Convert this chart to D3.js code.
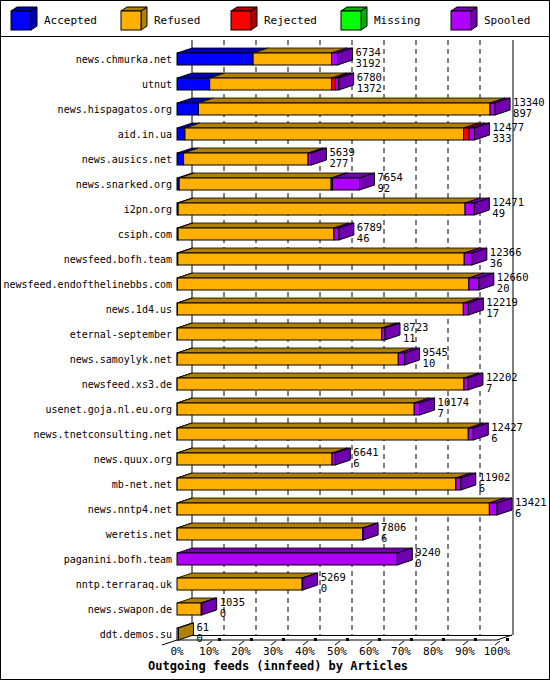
<!DOCTYPE html>
<html>
<head>
<meta charset="utf-8">
<script src="https://cdn.jsdelivr.net/npm/d3@7"></script>
<style>
  body { margin: 0; background: #fff; }
  text { font-family: "DejaVu Sans Mono", monospace; }
</style>
</head>
<body>
<div class="canvas"></div>
<script>
// feeds, top to bottom
const hosts = ["news.chmurka.net", "utnut", "news.hispagatos.org", "aid.in.ua", "news.ausics.net",
  "news.snarked.org", "i2pn.org", "csiph.com", "newsfeed.bofh.team", "newsfeed.endofthelinebbs.com",
  "news.1d4.us", "eternal-september", "news.samoylyk.net", "newsfeed.xs3.de", "usenet.goja.nl.eu.org",
  "news.tnetconsulting.net", "news.quux.org", "mb-net.net", "news.nntp4.net", "weretis.net",
  "paganini.bofh.team", "nntp.terraraq.uk", "news.swapon.de", "ddt.demos.su"];
const totals = [6734, 6780, 13340, 12477, 5639, 7654, 12471, 6789, 12366, 12660, 12219, 8723, 9545,
  12202, 10174, 12427, 6641, 11902, 13421, 7806, 9240, 5269, 1035, 61];
const accepted = [3192, 1372, 897, 333, 277, 92, 49, 46, 36, 20, 17, 11, 10, 7, 7, 6, 6, 6, 6, 6, 0, 0, 0, 0];
const refused = [3290, 5117, 12233, 11684, 5222, 6372, 12032, 6533, 12010, 12220, 11992, 8572, 9270,
  12025, 9942, 12211, 6495, 11686, 13095, 7780, 0, 5249, 1015, 61];
const rejected = [0, 155, 0, 240, 0, 60, 0, 0, 0, 0, 0, 0, 0, 0, 0, 0, 0, 0, 0, 0, 0, 0, 0, 0];
const missing = [0, 0, 0, 0, 0, 0, 0, 0, 0, 0, 0, 0, 0, 0, 0, 0, 0, 0, 0, 0, 0, 0, 0, 0];
const spooled = [252, 136, 210, 220, 140, 1130, 390, 210, 320, 420, 210, 140, 265, 170, 225, 210, 140,
  210, 320, 20, 9240, 20, 20, 0];
const seriesNames = ["Accepted", "Refused", "Rejected", "Missing", "Spooled"];
const seriesVals = [accepted, refused, rejected, missing, spooled];
const pctTicks = [0, 10, 20, 30, 40, 50, 60, 70, 80, 90, 100];

const colors = ["#0000ff", "#ffb000", "#ff0000", "#00ff00", "#b000ff"];
const darks = ["#0000b0", "#b08000", "#b00000", "#00b000", "#7000b0"];

const W = 550, H = 680, DX = 15, DY = -5;
const svg = d3.select(".canvas").append("svg").attr("width", W).attr("height", H);
svg.append("rect").attr("x", 0.5).attr("y", 0.5).attr("width", W - 1).attr("height", H - 1)
  .attr("fill", "#fff").attr("stroke", "#000");

// legend
svg.append("line").attr("x1", 0).attr("x2", W).attr("y1", 36.5).attr("y2", 36.5).attr("stroke", "#000");
const leg = svg.selectAll(".leg").data(seriesNames).enter().append("g")
  .attr("transform", (d, i) => `translate(${11 + i * 110},0)`);
leg.append("path").attr("d", "M20,11 L26,7 L26,26 L20,30 Z").attr("fill", (d, i) => darks[i]).attr("stroke", "#000");
leg.append("path").attr("d", "M0,11 L6,7 L26,7 L20,11 Z").attr("fill", (d, i) => darks[i]).attr("stroke", "#000");
leg.append("rect").attr("x", 0).attr("y", 11).attr("width", 20).attr("height", 19)
  .attr("fill", (d, i) => colors[i]).attr("stroke", "#000");
leg.append("text").attr("x", 33).attr("y", 24).attr("font-size", 11).text(d => d);

// scales
const maxTotal = d3.max(totals);
const x = d3.scaleLinear().domain([0, maxTotal]).range([177, 497]);
const xp = d3.scaleLinear().domain([0, 100]).range([177, 497]);
const y = d3.scaleBand().domain(hosts).range([46.5, 646.5]);
const floorY = 640;

// back walls and grid
const g = svg.append("g");
g.append("line").attr("x1", xp(0) + DX).attr("x2", xp(0) + DX).attr("y1", 40).attr("y2", floorY + DY).attr("stroke", "#000");
g.append("line").attr("x1", xp(100) + DX + 1).attr("x2", xp(100) + DX + 1).attr("y1", 40).attr("y2", floorY + DY).attr("stroke", "#000");
g.selectAll(".grid").data(pctTicks.slice(1, 10)).enter().append("line")
  .attr("x1", d => xp(d) + DX).attr("x2", d => xp(d) + DX)
  .attr("y1", 40).attr("y2", floorY + DY)
  .attr("stroke", "#000").attr("stroke-dasharray", "5,4");
g.append("line").attr("x1", xp(0) + DX).attr("x2", xp(100) + DX).attr("y1", floorY + DY + 0.5).attr("y2", floorY + DY + 0.5).attr("stroke", "#000");
g.append("path").attr("d", `M${xp(0) - 15},${floorY + 5} L${xp(0)},${floorY} L${xp(100)},${floorY} L${xp(100) + DX},${floorY + DY}`)
  .attr("fill", "none").attr("stroke", "#000");

// ticks
const tk = g.selectAll(".tk").data(pctTicks).enter().append("g")
  .attr("transform", d => `translate(${xp(d)},${floorY})`);
tk.filter(d => d > 0).append("path").attr("d", "M-2,5 L3,1").attr("stroke", "#000");
tk.filter(d => d > 0).append("rect").attr("x", 9).attr("y", -2).attr("width", 3).attr("height", 3).attr("fill", "#000");
tk.append("text").attr("x", 0).attr("y", 15).attr("text-anchor", "middle").attr("font-size", 11)
  .text(d => d + "%");

svg.append("text").attr("x", 148).attr("y", 670).attr("font-size", 12).attr("font-weight", "bold")
  .text("Outgoing feeds (innfeed) by Articles");

// bars
hosts.forEach((h, i) => {
  const cy = y(h) + y.bandwidth() / 2;
  const top = cy - 6, bh = 12;
  const row = svg.append("g");
  let acc = 0, last = 1;
  seriesVals.forEach((vals, s) => {
    const v = vals[i];
    if (v <= 0) return;
    const x0 = x(acc), x1 = x(acc + v);
    row.append("path")
      .attr("d", `M${x0},${top} L${x0 + DX},${top + DY} L${x1 + DX},${top + DY} L${x1},${top} Z`)
      .attr("fill", darks[s]).attr("stroke", "#000").attr("stroke-width", 0.8);
    row.append("rect").attr("x", x0).attr("y", top).attr("width", x1 - x0).attr("height", bh)
      .attr("fill", colors[s]).attr("stroke", "#000").attr("stroke-width", 1);
    acc += v; last = s;
  });
  const xe = x(acc);
  row.append("path")
    .attr("d", `M${xe},${top} L${xe + DX},${top + DY} L${xe + DX},${top + bh + DY} L${xe},${top + bh} Z`)
    .attr("fill", darks[last]).attr("stroke", "#000");
  row.append("text").attr("x", xe + DX + 3).attr("y", cy - 3).attr("font-size", 10.5).text(totals[i]);
  row.append("text").attr("x", xe + DX + 3).attr("y", cy + 8).attr("font-size", 10.5).text(accepted[i]);
  svg.append("text").attr("x", 172).attr("y", cy + 4).attr("text-anchor", "end").attr("font-size", 10).text(h);
});
</script>
</body>
</html>
